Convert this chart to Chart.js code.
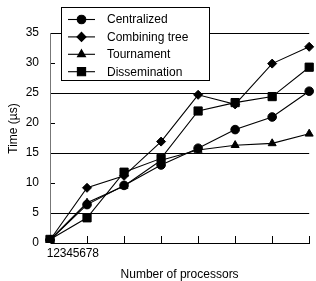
<!DOCTYPE html>
<html>
<head>
<meta charset="utf-8">
<script src="https://cdn.jsdelivr.net/npm/chart.js@4"></script>
<style>
html,body{margin:0;padding:0;background:#fff;}
canvas{display:block;}
</style>
</head>
<body>
<canvas id="c" width="316" height="281"></canvas>
<script>
const categories = ['1','2','3','4','5','6','7','8'];
const tickLabels = ['1','2','3','4','5','6','7','8'];
const yTicks = [0,5,10,15,20,25,30,35];
const seriesNames = ['Centralized','Combining tree','Tournament','Dissemination'];
const centralized   = [0.5, 6.4, 9.6, 13.0, 15.8, 18.9, 21.0, 25.3];
const combiningTree = [0.5, 9.2, 11.2, 16.9, 24.7, 23.1, 29.9, 32.7];
const tournament    = [0.5, 6.7, 9.5, 13.8, 15.5, 16.3, 16.6, 18.2];
const dissemination = [0.6, 4.2, 11.8, 14.1, 22.0, 23.4, 24.4, 29.3];
const xTitle = 'Number of processors';
const yTitle = 'Time (\u00b5s)';

const FONT = 'Liberation Sans, Arial, sans-serif';
Chart.defaults.font.family = FONT;
Chart.defaults.font.size = 12;
Chart.defaults.color = '#000';

const styles = [
  {pointStyle:'circle', pointRadius:4.3},
  {pointStyle:'rectRot', pointRadius:4.5},
  {pointStyle:'triangle', pointRadius:4.6},
  {pointStyle:'rect', pointRadius:5.8}
];
const values = [centralized, combiningTree, tournament, dissemination];

const datasets = seriesNames.map((n,i)=>({
  label:n, data:values[i], borderColor:'#000', backgroundColor:'#000',
  borderWidth:1.1, pointStyle:styles[i].pointStyle, pointRadius:styles[i].pointRadius,
  pointBorderWidth:1, pointBackgroundColor:'#000', pointBorderColor:'#000',
  tension:0, xAxisID:'x', yAxisID:'y'
}));

const extras = {
  id:'extras',
  afterDraw(chart){
    const ctx = chart.ctx, a = chart.chartArea;
    ctx.save();
    // y title
    ctx.translate(14, 128.5);
    ctx.rotate(-Math.PI/2);
    ctx.font = '12px ' + FONT;
    ctx.fillStyle = '#000';
    ctx.textAlign = 'center';
    ctx.textBaseline = 'middle';
    ctx.fillText(yTitle, 0, 0);
    ctx.restore();

    // legend box
    ctx.save();
    const bx = a.left + 11, by = 7, bw = 149, bh = 74;
    ctx.fillStyle = '#fff';
    ctx.fillRect(bx, by, bw, bh);
    ctx.strokeStyle = '#000';
    ctx.lineWidth = 1;
    ctx.strokeRect(bx + 0.5, by + 0.5, bw - 1, bh - 1);
    chart.data.datasets.forEach((ds, i) => {
      const cy = 19.5 + i * 17.4;
      ctx.strokeStyle = '#000';
      ctx.lineWidth = 1.1;
      ctx.beginPath();
      ctx.moveTo(bx + 7, cy);
      ctx.lineTo(bx + 34, cy);
      ctx.stroke();
      ctx.fillStyle = '#000';
      Chart.helpers.drawPoint(ctx, {pointStyle: ds.pointStyle, radius: ds.pointRadius, borderWidth: 1}, bx + 20.5, cy);
      ctx.fillStyle = '#000';
      ctx.font = '12px ' + FONT;
      ctx.textAlign = 'left';
      ctx.textBaseline = 'middle';
      ctx.fillText(ds.label, bx + 46, cy + 0.5);
    });
    ctx.restore();
  }
};

new Chart(document.getElementById('c'), {
  type:'line',
  data:{labels:categories, datasets},
  options:{
    responsive:false, animation:false,
    layout:{padding:{top:33, right:0, left:0, bottom:0}},
    plugins:{legend:{display:false}, tooltip:{enabled:false}},
    scales:{
      x:{
        type:'category', position:'bottom', weight:0, offset:false,
        ticks:{display:false},
        grid:{drawOnChartArea:false, drawTicks:true, tickLength:-7, color:'#000', lineWidth:1},
        border:{display:true, color:'#000', width:1},
        afterFit(s){ s.height = 0; }
      },
      x2:{
        type:'linear', position:'bottom', weight:1,
        min:1, max:1 + 266/6.67,
        ticks:{stepSize:1, autoSkip:false, maxRotation:0, padding:3,
          callback:(v)=> (Number.isInteger(v) && v>=1 && v<=tickLabels.length) ? tickLabels[v-1] : ''},
        grid:{display:false, drawTicks:false},
        border:{display:false},
        title:{display:true, text:xTitle, font:{size:12, lineHeight:1}, padding:{top:0,bottom:0}},
        afterFit(s){ s.height = 38; }
      },
      y:{
        position:'left', min:0, max:35,
        afterBuildTicks(s){ s.ticks = yTicks.map(v=>({value:v})); },
        ticks:{padding:16},
        grid:{
          drawOnChartArea:true, tickLength:-5,
          color:(c)=> (c.tick && c.tick.value % 10 === 5) ? '#000' : 'rgba(0,0,0,0)',
          tickColor:'#000', lineWidth:1
        },
        border:{display:true, color:'#777', width:1},
        afterFit(s){ s.width = 50; }
      }
    }
  },
  plugins:[extras]
});
</script>
</body>
</html>
